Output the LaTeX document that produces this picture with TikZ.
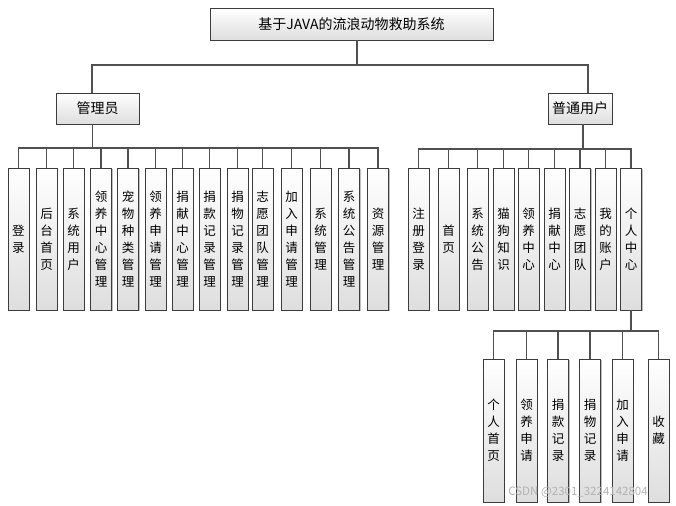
\documentclass[tikz,border=0pt]{standalone}
\usepackage{fontspec}
\setmainfont{Noto Sans CJK SC}
\usetikzlibrary{shadows}
\definecolor{edgec}{HTML}{505050}
\definecolor{boxc}{HTML}{3C3C3C}
\tikzset{
  box/.style={draw=boxc, line width=0.9pt, top color=white, bottom color=black!13,
    drop shadow={shadow xshift=1.2pt, shadow yshift=-1.2pt, opacity=0.25, fill=black},
    inner sep=0pt, align=center},
  hbox/.style={box, font=\fontsize{14}{16}\selectfont},
  vbox/.style={box, minimum width=21pt, font=\fontsize{12.5}{17}\selectfont},
  conn/.style={draw=edgec, line width=1.1pt}
}
\begin{document}
\begin{tikzpicture}[x=1pt,y=-1pt]
\useasboundingbox (0,0) rectangle (676,505);
% top level
\node[hbox, minimum width=283pt, minimum height=32pt] (title) at (351.5,24) {基于JAVA的流浪动物救助系统};
\node[hbox, minimum width=83pt, minimum height=31pt] (adm) at (97.5,108.5) {管理员};
\node[hbox, minimum width=64pt, minimum height=31pt] (usr) at (580,108.5) {普通用户};
\coordinate (busT) at (0,65);
\coordinate (busA) at (0,148);
\coordinate (busU) at (0,149);
\coordinate (busP) at (0,331);
\draw[conn] ([xshift=5.5pt]title.south) |- ([xshift=-5.5pt]adm.north |- busT) -- ([xshift=-5.5pt]adm.north);
\draw[conn] ([xshift=5.5pt]title.south) |- ([xshift=8pt]usr.north |- busT) -- ([xshift=8pt]usr.north);
% admin children
\foreach \x/\t [count=\i] in {18.5/{登\\录}, 46.5/{后\\台\\首\\页}, 73.5/{系\\统\\用\\户},
  101/{领\\养\\中\\心\\管\\理}, 128/{宠\\物\\种\\类\\管\\理}, 155.5/{领\\养\\申\\请\\管\\理},
  182.5/{捐\\献\\中\\心\\管\\理}, 209.5/{捐\\款\\记\\录\\管\\理}, 237.5/{捐\\物\\记\\录\\管\\理},
  262.5/{志\\愿\\团\\队\\管\\理}, 291.5/{加\\入\\申\\请\\管\\理}, 320.5/{系\\统\\管\\理},
  349/{系\\统\\公\\告\\管\\理}, 378/{资\\源\\管\\理}} {
  \node[vbox, minimum height=142pt] (a\i) at (\x,239) {\t};
  \draw[conn] ([xshift=-5pt]adm.south) |- (a\i.north |- busA) -- (a\i.north);
}
% user children
\foreach \x/\t [count=\i] in {418.5/{注\\册\\登\\录}, 448.5/{首\\页}, 477.5/{系\\统\\公\\告},
  503.5/{猫\\狗\\知\\识}, 528.5/{领\\养\\中\\心}, 554.5/{捐\\献\\中\\心},
  580/{志\\愿\\团\\队}, 605.5/{我\\的\\账\\户}, 631/{个\\人\\中\\心}} {
  \node[vbox, minimum height=142pt] (u\i) at (\x,239) {\t};
  \draw[conn] ([xshift=3pt]usr.south) |- (u\i.north |- busU) -- (u\i.north);
}
% personal center children
\foreach \x/\t [count=\i] in {493.5/{个\\人\\首\\页}, 526.5/{领\\养\\申\\请}, 558/{捐\\款\\记\\录},
  590/{捐\\物\\记\\录}, 622.5/{加\\入\\申\\请}, 658.5/{收\\藏}} {
  \node[vbox, minimum height=143pt] (p\i) at (\x,430.5) {\t};
  \draw[conn] (u9.south) |- (p\i.north |- busP) -- (p\i.north);
}
\node[text=black!30, font=\fontsize{11.5}{13}\selectfont, inner sep=0pt] (wm) at (578,492) {CSDN @2301\_3224142804};
\end{tikzpicture}
\end{document}
